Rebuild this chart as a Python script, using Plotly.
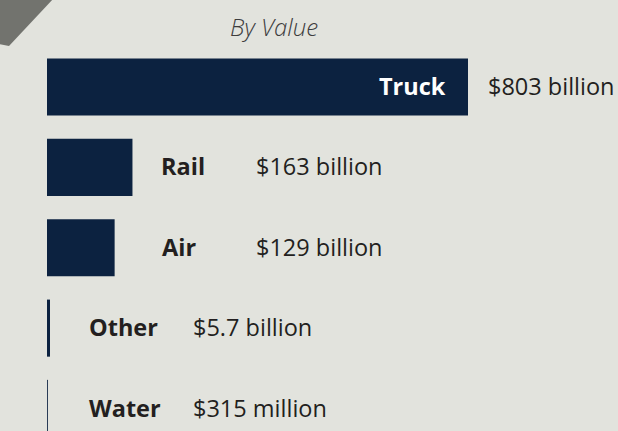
import plotly.graph_objects as go

# Data
modes = ["Truck", "Rail", "Air", "Other", "Water"]
values_billion = [803, 163, 129, 5.7, 0.315]
value_labels = ["$803 billion", "$163 billion", "$129 billion", "$5.7 billion", "$315 million"]
title_text = "By Value"

W, H = 618, 431
BG = "#e2e3dd"
BAR = "#0c2240"
TXT = "#231f20"
FONT = "Open Sans"

fig = go.Figure()
fig.add_trace(go.Bar(
    x=values_billion, y=modes, orientation="h",
    marker=dict(color=BAR, line=dict(color=BAR, width=[0, 0, 0, 0, 1])),
    width=0.71, hoverinfo="skip",
))

# label layout (pixel positions)
label_px = [(448, "right"), (159, "left"), (160, "left"), (87, "left"), (87, "left")]
value_px = [486, 254, 254, 191, 191]

annotations = []
for i, m in enumerate(modes):
    lx, anchor = label_px[i]
    annotations.append(dict(
        x=lx / W, xref="paper", y=m, yref="y", text=f"<b>{m}</b>",
        xanchor=anchor, yanchor="middle", showarrow=False, yshift=1,
        font=dict(family=FONT, size=23.5, color="white" if i == 0 else TXT),
    ))
    annotations.append(dict(
        x=value_px[i] / W, xref="paper", y=m, yref="y", text=value_labels[i],
        xanchor="left", yanchor="middle", showarrow=False, yshift=1,
        font=dict(family=FONT, size=23.5, color=TXT),
    ))
annotations.append(dict(
    x=273.5 / W, xref="paper", y=1 - 27 / H, yref="paper", text=f"<i>{title_text}</i>",
    xanchor="center", yanchor="middle", showarrow=False,
    font=dict(family=FONT, size=24, color="#3d3d3d", weight=300),
))

def P(px, py):
    return f"{px / W:.5f},{1 - py / H:.5f}"

tri = f"M {P(-2, -2)} L {P(54, -2)} L {P(9, 46)} L {P(-2, 44)} Z"

scale = 421 / 803  # px per billion
x_max = (W - 47) / scale
fig.update_layout(
    width=W, height=H, margin=dict(l=0, r=0, t=0, b=0),
    paper_bgcolor=BG, plot_bgcolor=BG, showlegend=False,
    xaxis=dict(domain=[47 / W, 1], range=[0, x_max], visible=False, fixedrange=True),
    yaxis=dict(categoryorder="array", categoryarray=modes,
               range=[4 + (H - 408.5) / 80.375, -87 / 80.375], visible=False, fixedrange=True),
    annotations=annotations,
    shapes=[dict(type="path", path=tri, xref="paper", yref="paper",
                 fillcolor="#72736e", line=dict(width=0), layer="above")],
)

fig.write_html(
    "out.html",
    config={"displayModeBar": False},
    post_script="document.body.style.margin='0';document.body.style.padding='0';document.body.style.overflow='hidden';",
)
